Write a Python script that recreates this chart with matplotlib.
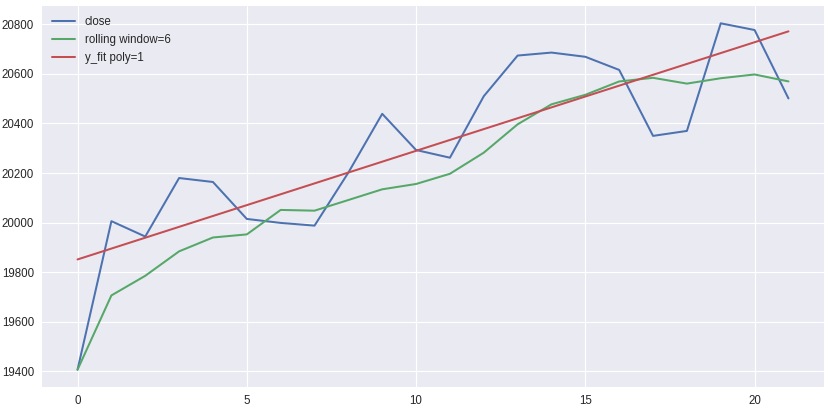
import numpy as np
import pandas as pd
import matplotlib
matplotlib.use("Agg")
import matplotlib.pyplot as plt

plt.style.use("seaborn-v0_8")
plt.rcParams["font.family"] = ["Liberation Sans", "DejaVu Sans"]

x = list(range(22))
close = [19407, 20006, 19944, 20180, 20164, 20015, 19999, 19988, 20202, 20439,
         20293, 20262, 20510, 20674, 20686, 20669, 20616, 20350, 20370, 20804,
         20777, 20501]

s = pd.Series(close, index=x)
rolling = s.rolling(6, min_periods=1).mean()
coef = np.polyfit(x, close, 1)
y_fit = np.polyval(coef, x)

fig = plt.figure(figsize=(10, 410 / 83), dpi=83)
ax = fig.add_axes([42 / 830, 23 / 410, 782 / 830, 381 / 410])
ax.plot(x, close, label="close")
ax.plot(x, rolling.values, label="rolling window=6")
ax.plot(x, y_fit, label="y_fit poly=1")
ax.set_xticks([0, 5, 10, 15, 20])
ax.legend(loc="upper left")
fig.savefig("out.png", dpi=83)
